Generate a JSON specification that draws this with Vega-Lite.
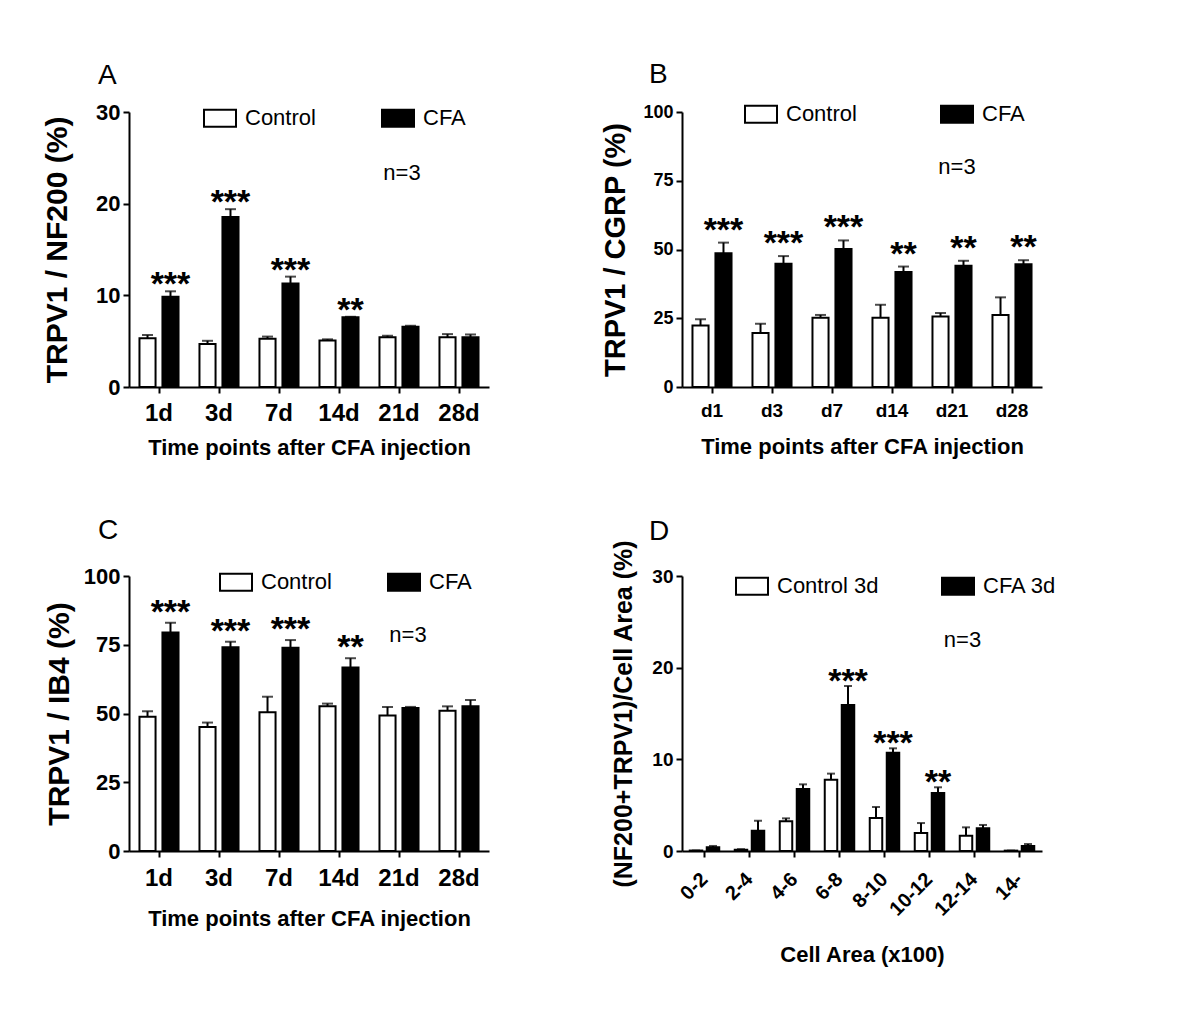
{
  "$schema": "https://vega.github.io/schema/vega-lite/v6.json",
  "background": "white",
  "padding": {"left": 42, "top": 61, "right": 5, "bottom": 5},
  "config": {
    "view": {"stroke": null},
    "font": "Liberation Sans",
    "axis": {"domainColor": "black", "domainWidth": 2, "tickColor": "black", "tickWidth": 2, "tickSize": 6, "grid": false, "labelFont": "Liberation Sans", "labelFontWeight": "bold", "labelColor": "black", "titleFont": "Liberation Sans", "titleFontWeight": "bold", "titleColor": "black", "labelPadding": 3},
    "legend": {"orient": "none", "direction": "horizontal", "title": null, "labelFont": "Liberation Sans", "labelFontSize": 22, "labelColor": "black", "labelOffset": 8, "symbolType": "M-1,-0.53H1V0.53H-1Z", "symbolSize": 1024, "symbolStrokeColor": "black", "symbolStrokeWidth": 2, "padding": 0},
    "title": {"font": "Liberation Sans", "fontSize": 28, "fontWeight": "normal", "color": "black", "anchor": "start", "frame": "group"}
  },
  "datasets": {
    "A": [
      {"cat": "1d", "grp": "Control", "mean": 5.33, "hi": 5.66, "sig": ""},
      {"cat": "1d", "grp": "CFA", "mean": 9.85, "hi": 10.44, "sig": "***"},
      {"cat": "3d", "grp": "Control", "mean": 4.7, "hi": 5.04, "sig": ""},
      {"cat": "3d", "grp": "CFA", "mean": 18.54, "hi": 19.4, "sig": "***"},
      {"cat": "7d", "grp": "Control", "mean": 5.26, "hi": 5.5, "sig": ""},
      {"cat": "7d", "grp": "CFA", "mean": 11.3, "hi": 12.04, "sig": "***"},
      {"cat": "14d", "grp": "Control", "mean": 5.07, "hi": 5.2, "sig": ""},
      {"cat": "14d", "grp": "CFA", "mean": 7.6, "hi": 7.66, "sig": "**"},
      {"cat": "21d", "grp": "Control", "mean": 5.44, "hi": 5.6, "sig": ""},
      {"cat": "21d", "grp": "CFA", "mean": 6.57, "hi": 6.68, "sig": ""},
      {"cat": "28d", "grp": "Control", "mean": 5.44, "hi": 5.77, "sig": ""},
      {"cat": "28d", "grp": "CFA", "mean": 5.44, "hi": 5.73, "sig": ""}
    ],
    "B": [
      {"cat": "d1", "grp": "Control", "mean": 22.4, "hi": 24.6, "sig": ""},
      {"cat": "d1", "grp": "CFA", "mean": 48.6, "hi": 52.5, "sig": "***"},
      {"cat": "d3", "grp": "Control", "mean": 19.6, "hi": 23.0, "sig": ""},
      {"cat": "d3", "grp": "CFA", "mean": 44.8, "hi": 47.6, "sig": "***"},
      {"cat": "d7", "grp": "Control", "mean": 25.2, "hi": 26.2, "sig": ""},
      {"cat": "d7", "grp": "CFA", "mean": 50.2, "hi": 53.3, "sig": "***"},
      {"cat": "d14", "grp": "Control", "mean": 25.2, "hi": 29.9, "sig": ""},
      {"cat": "d14", "grp": "CFA", "mean": 41.8, "hi": 43.8, "sig": "**"},
      {"cat": "d21", "grp": "Control", "mean": 25.6, "hi": 26.9, "sig": ""},
      {"cat": "d21", "grp": "CFA", "mean": 44.1, "hi": 45.9, "sig": "**"},
      {"cat": "d28", "grp": "Control", "mean": 26.2, "hi": 32.6, "sig": ""},
      {"cat": "d28", "grp": "CFA", "mean": 44.6, "hi": 46.1, "sig": "**"}
    ],
    "C": [
      {"cat": "1d", "grp": "Control", "mean": 48.8, "hi": 50.8, "sig": ""},
      {"cat": "1d", "grp": "CFA", "mean": 79.5, "hi": 83.0, "sig": "***"},
      {"cat": "3d", "grp": "Control", "mean": 45.1, "hi": 46.7, "sig": ""},
      {"cat": "3d", "grp": "CFA", "mean": 74.1, "hi": 76.1, "sig": "***"},
      {"cat": "7d", "grp": "Control", "mean": 50.5, "hi": 56.1, "sig": ""},
      {"cat": "7d", "grp": "CFA", "mean": 73.9, "hi": 76.7, "sig": "***"},
      {"cat": "14d", "grp": "Control", "mean": 52.6, "hi": 53.6, "sig": ""},
      {"cat": "14d", "grp": "CFA", "mean": 66.7, "hi": 70.1, "sig": "**"},
      {"cat": "21d", "grp": "Control", "mean": 49.3, "hi": 52.4, "sig": ""},
      {"cat": "21d", "grp": "CFA", "mean": 52.0, "hi": 52.4, "sig": ""},
      {"cat": "28d", "grp": "Control", "mean": 51.0, "hi": 52.6, "sig": ""},
      {"cat": "28d", "grp": "CFA", "mean": 52.6, "hi": 54.9, "sig": ""}
    ],
    "D": [
      {"cat": "0-2", "grp": "Control 3d", "mean": 0.05, "hi": 0.05, "sig": ""},
      {"cat": "0-2", "grp": "CFA 3d", "mean": 0.4, "hi": 0.55, "sig": ""},
      {"cat": "2-4", "grp": "Control 3d", "mean": 0.15, "hi": 0.2, "sig": ""},
      {"cat": "2-4", "grp": "CFA 3d", "mean": 2.2, "hi": 3.3, "sig": ""},
      {"cat": "4-6", "grp": "Control 3d", "mean": 3.24, "hi": 3.56, "sig": ""},
      {"cat": "4-6", "grp": "CFA 3d", "mean": 6.76, "hi": 7.27, "sig": ""},
      {"cat": "6-8", "grp": "Control 3d", "mean": 7.78, "hi": 8.44, "sig": ""},
      {"cat": "6-8", "grp": "CFA 3d", "mean": 15.93, "hi": 18.0, "sig": "***"},
      {"cat": "8-10", "grp": "Control 3d", "mean": 3.6, "hi": 4.8, "sig": ""},
      {"cat": "8-10", "grp": "CFA 3d", "mean": 10.73, "hi": 11.2, "sig": "***"},
      {"cat": "10-12", "grp": "Control 3d", "mean": 1.96, "hi": 3.05, "sig": ""},
      {"cat": "10-12", "grp": "CFA 3d", "mean": 6.33, "hi": 6.95, "sig": "**"},
      {"cat": "12-14", "grp": "Control 3d", "mean": 1.67, "hi": 2.58, "sig": ""},
      {"cat": "12-14", "grp": "CFA 3d", "mean": 2.47, "hi": 2.84, "sig": ""},
      {"cat": "14-", "grp": "Control 3d", "mean": 0.04, "hi": 0.04, "sig": ""},
      {"cat": "14-", "grp": "CFA 3d", "mean": 0.55, "hi": 0.76, "sig": ""}
    ]
  },
  "concat": [
    {
      "width": 360, "height": 275,
      "title": {"text": "A", "dx": -31, "offset": 11},
      "data": {"name": "A"},
      "encoding": {
        "x": {"field": "cat", "type": "nominal", "scale": {"domain": ["1d", "3d", "7d", "14d", "21d", "28d"], "paddingInner": 0, "paddingOuter": 0}, "axis": {"title": "Time points after CFA injection", "labelAngle": 0, "labelFontSize": 24, "labelPadding": 8, "titleFontSize": 22, "titlePadding": 12}},
        "xOffset": {"field": "grp", "type": "nominal", "scale": {"domain": ["Control", "CFA"], "paddingInner": 0.3, "paddingOuter": 0.456}},
        "y": {"field": "mean", "type": "quantitative", "scale": {"domain": [0, 30], "nice": false}, "axis": {"title": "TRPV1 / NF200 (%)", "values": [0, 10, 20, 30], "labelFontSize": 22, "titleFontSize": 30, "titlePadding": 23}}
      },
      "layer": [
        {"mark": {"type": "bar", "stroke": "black", "strokeWidth": 2},
         "encoding": {"fill": {"field": "grp", "type": "nominal", "scale": {"domain": ["Control", "CFA"], "range": ["white", "black"]}, "legend": {"legendX": 74, "legendY": -11, "columnPadding": 62}}}},
        {"mark": {"type": "rule", "color": "black", "strokeWidth": 2}, "encoding": {"y2": {"field": "hi"}}},
        {"mark": {"type": "tick", "color": "black", "thickness": 2, "size": 11}, "encoding": {"y": {"field": "hi", "type": "quantitative"}}},
        {"transform": [{"filter": "datum.sig != ''"}], "mark": {"type": "text", "fontSize": 34, "fontWeight": "bold", "font": "Liberation Sans", "baseline": "alphabetic", "dy": 4, "color": "black"}, "encoding": {"y": {"field": "hi", "type": "quantitative"}, "text": {"field": "sig"}}},
        {"data": {"values": [{"cat": "21d", "lab": "n=3", "yv": 23.3}]}, "mark": {"type": "text", "fontSize": 22, "baseline": "middle", "dx": 3, "color": "black"}, "encoding": {"xOffset": null, "y": {"field": "yv", "type": "quantitative"}, "text": {"field": "lab"}}}
      ]
    },
    {
      "width": 360, "height": 275,
      "title": {"text": "B", "dx": -33, "offset": 11, "dy": 3},
      "data": {"name": "B"},
      "encoding": {
        "x": {"field": "cat", "type": "nominal", "scale": {"domain": ["d1", "d3", "d7", "d14", "d21", "d28"], "paddingInner": 0, "paddingOuter": 0}, "axis": {"title": "Time points after CFA injection", "labelAngle": 0, "labelFontSize": 19, "labelPadding": 8, "titleFontSize": 22, "titlePadding": 16}},
        "xOffset": {"field": "grp", "type": "nominal", "scale": {"domain": ["Control", "CFA"], "paddingInner": 0.3, "paddingOuter": 0.456}},
        "y": {"field": "mean", "type": "quantitative", "scale": {"domain": [0, 100], "nice": false}, "axis": {"title": "TRPV1 / CGRP (%)", "values": [0, 25, 50, 75, 100], "labelFontSize": 18, "titleFontSize": 29, "titlePadding": 12}}
      },
      "layer": [
        {"mark": {"type": "bar", "stroke": "black", "strokeWidth": 2},
         "encoding": {"fill": {"field": "grp", "type": "nominal", "scale": {"domain": ["Control", "CFA"], "range": ["white", "black"]}, "legend": {"legendX": 62, "legendY": -15, "columnPadding": 80}}}},
        {"mark": {"type": "rule", "color": "black", "strokeWidth": 2}, "encoding": {"y2": {"field": "hi"}}},
        {"mark": {"type": "tick", "color": "black", "thickness": 2, "size": 11}, "encoding": {"y": {"field": "hi", "type": "quantitative"}}},
        {"transform": [{"filter": "datum.sig != ''"}], "mark": {"type": "text", "fontSize": 34, "fontWeight": "bold", "font": "Liberation Sans", "baseline": "alphabetic", "dy": -2, "color": "black"}, "encoding": {"y": {"field": "hi", "type": "quantitative"}, "text": {"field": "sig"}}},
        {"data": {"values": [{"cat": "d21", "lab": "n=3", "yv": 79.9}]}, "mark": {"type": "text", "fontSize": 22, "baseline": "middle", "dx": 5, "color": "black"}, "encoding": {"xOffset": null, "y": {"field": "yv", "type": "quantitative"}, "text": {"field": "lab"}}}
      ]
    },
    {
      "width": 360, "height": 275,
      "title": {"text": "C", "dx": -31, "offset": 11, "dy": -9},
      "data": {"name": "C"},
      "encoding": {
        "x": {"field": "cat", "type": "nominal", "scale": {"domain": ["1d", "3d", "7d", "14d", "21d", "28d"], "paddingInner": 0, "paddingOuter": 0}, "axis": {"title": "Time points after CFA injection", "labelAngle": 0, "labelFontSize": 24, "labelPadding": 9, "titleFontSize": 22, "titlePadding": 18}},
        "xOffset": {"field": "grp", "type": "nominal", "scale": {"domain": ["Control", "CFA"], "paddingInner": 0.3, "paddingOuter": 0.456}},
        "y": {"field": "mean", "type": "quantitative", "scale": {"domain": [0, 100], "nice": false}, "axis": {"title": "TRPV1 / IB4 (%)", "values": [0, 25, 50, 75, 100], "labelFontSize": 22, "titleFontSize": 30, "titlePadding": 9}}
      },
      "layer": [
        {"mark": {"type": "bar", "stroke": "black", "strokeWidth": 2},
         "encoding": {"fill": {"field": "grp", "type": "nominal", "scale": {"domain": ["Control", "CFA"], "range": ["white", "black"]}, "legend": {"legendX": 90, "legendY": -11, "columnPadding": 52}}}},
        {"mark": {"type": "rule", "color": "black", "strokeWidth": 2}, "encoding": {"y2": {"field": "hi"}}},
        {"mark": {"type": "tick", "color": "black", "thickness": 2, "size": 11}, "encoding": {"y": {"field": "hi", "type": "quantitative"}}},
        {"transform": [{"filter": "datum.sig != ''"}], "mark": {"type": "text", "fontSize": 34, "fontWeight": "bold", "font": "Liberation Sans", "baseline": "alphabetic", "dy": 0, "color": "black"}, "encoding": {"y": {"field": "hi", "type": "quantitative"}, "text": {"field": "sig"}}},
        {"data": {"values": [{"cat": "21d", "lab": "n=3", "yv": 78.7}]}, "mark": {"type": "text", "fontSize": 22, "baseline": "middle", "dx": 9, "color": "black"}, "encoding": {"xOffset": null, "y": {"field": "yv", "type": "quantitative"}, "text": {"field": "lab"}}}
      ]
    },
    {
      "width": 360, "height": 275,
      "title": {"text": "D", "dx": -33, "offset": 11, "dy": 18},
      "data": {"name": "D"},
      "encoding": {
        "x": {"field": "cat", "type": "nominal", "scale": {"domain": ["0-2", "2-4", "4-6", "6-8", "8-10", "10-12", "12-14", "14-"], "paddingInner": 0, "paddingOuter": 0}, "axis": {"title": "Cell Area (x100)", "labelAngle": -45, "labelAlign": "right", "labelBaseline": "middle", "labelFontSize": 20, "labelPadding": 19, "titleFontSize": 22, "titlePadding": 25}},
        "xOffset": {"field": "grp", "type": "nominal", "scale": {"domain": ["Control 3d", "CFA 3d"], "paddingInner": 0.265, "paddingOuter": 0.456}},
        "y": {"field": "mean", "type": "quantitative", "scale": {"domain": [0, 30], "nice": false}, "axis": {"title": "(NF200+TRPV1)/Cell Area (%)", "values": [0, 10, 20, 30], "labelFontSize": 19, "titleFontSize": 25, "titlePadding": 15}}
      },
      "layer": [
        {"mark": {"type": "bar", "stroke": "black", "strokeWidth": 2},
         "encoding": {"fill": {"field": "grp", "type": "nominal", "scale": {"domain": ["Control 3d", "CFA 3d"], "range": ["white", "black"]}, "legend": {"legendX": 53, "legendY": -7, "columnPadding": 59}}}},
        {"mark": {"type": "rule", "color": "black", "strokeWidth": 2}, "encoding": {"y2": {"field": "hi"}}},
        {"mark": {"type": "tick", "color": "black", "thickness": 2, "size": 8}, "encoding": {"y": {"field": "hi", "type": "quantitative"}}},
        {"transform": [{"filter": "datum.sig != ''"}], "mark": {"type": "text", "fontSize": 34, "fontWeight": "bold", "font": "Liberation Sans", "baseline": "alphabetic", "dy": 6, "color": "black"}, "encoding": {"y": {"field": "hi", "type": "quantitative"}, "text": {"field": "sig"}}},
        {"data": {"values": [{"cat": "12-14", "lab": "n=3", "yv": 23.0}]}, "mark": {"type": "text", "fontSize": 22, "baseline": "middle", "dx": -12, "color": "black"}, "encoding": {"xOffset": null, "y": {"field": "yv", "type": "quantitative"}, "text": {"field": "lab"}}}
      ]
    }
  ],
  "columns": 2,
  "spacing": {"row": 189, "column": 193},
  "bounds": "flush",
  "resolve": {"scale": {"fill": "independent", "xOffset": "independent"}, "legend": {"fill": "independent"}}
}
